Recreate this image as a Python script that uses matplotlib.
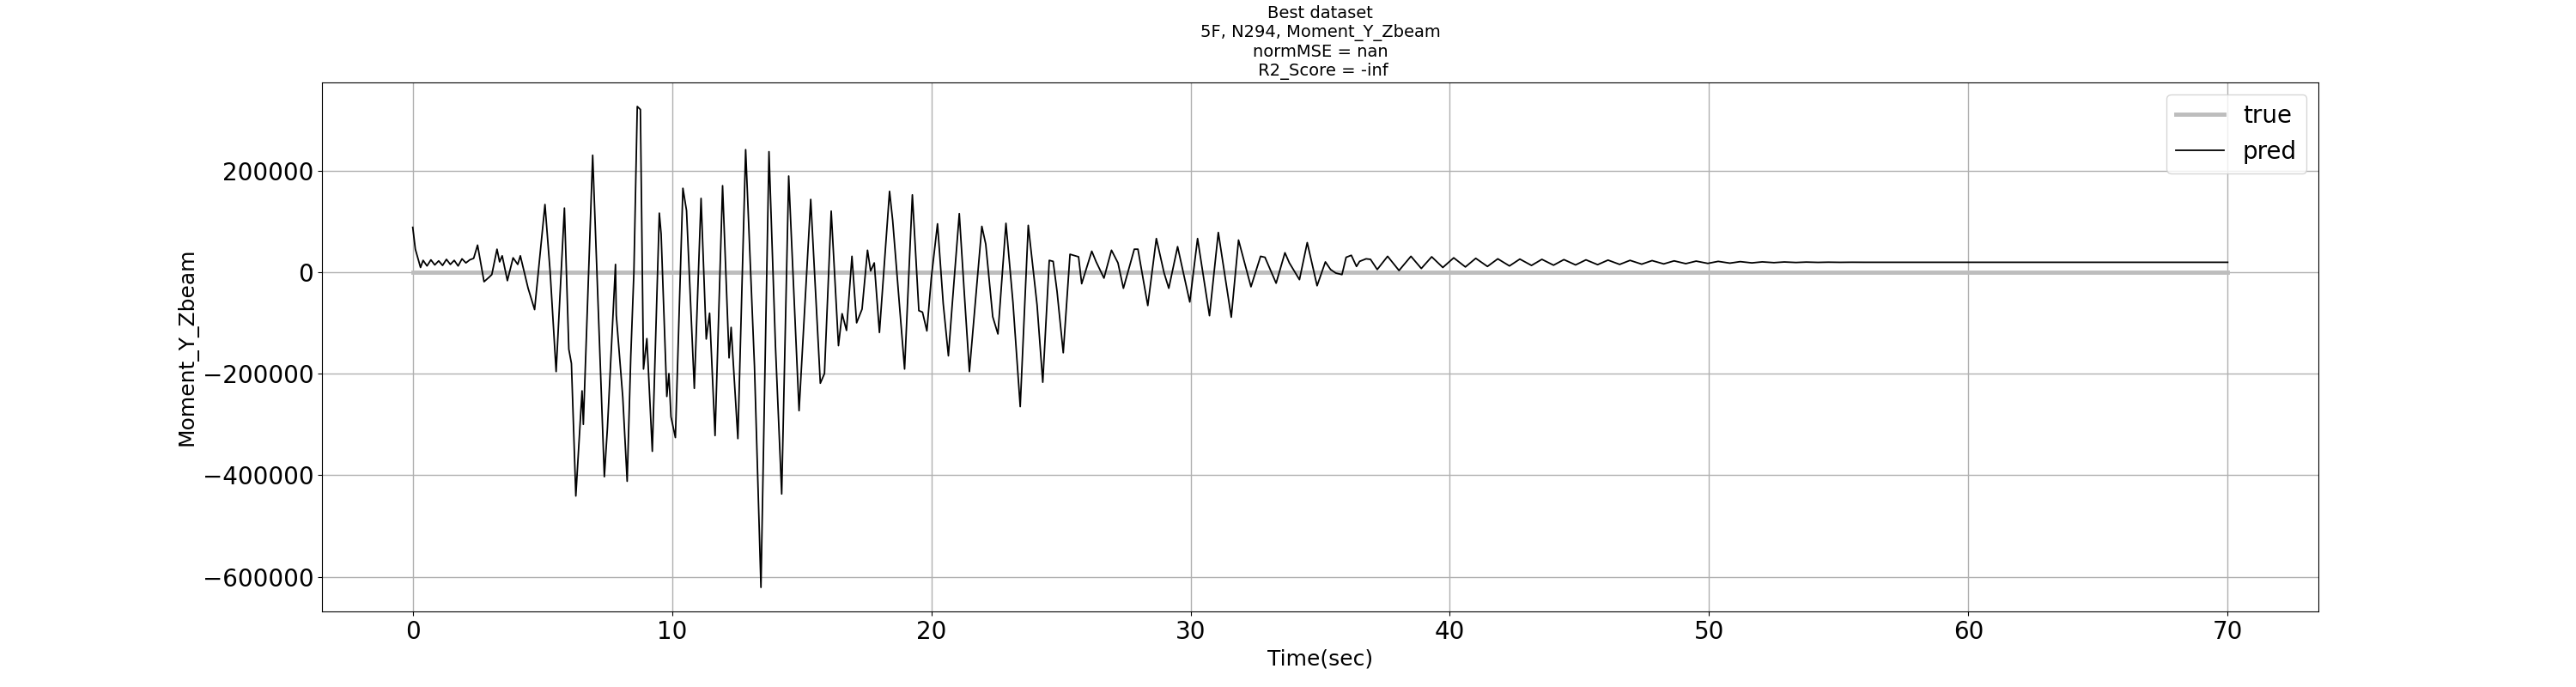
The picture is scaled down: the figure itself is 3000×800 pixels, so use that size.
import matplotlib
matplotlib.use("Agg")
import matplotlib.pyplot as plt

# time (s) / value pairs (extrema of the predicted trace)
pred_t = [0.0, 0.1, 0.3, 0.4, 0.55, 0.7, 0.85, 1.0, 1.15, 1.3, 1.45, 1.6, 1.75, 1.9, 2.05, 2.2, 2.35, 2.5,
          2.75, 2.95, 3.05, 3.25, 3.35, 3.45, 3.65, 3.87, 4.05, 4.15, 4.3, 4.45, 4.7, 5.1, 5.3, 5.53,
          5.85, 6.02, 6.12, 6.29, 6.53, 6.58, 6.94, 7.39, 7.51, 7.82, 7.85, 8.1, 8.27, 8.41, 8.53,
          8.66, 8.78, 8.9, 9.03, 9.24, 9.51, 9.58, 9.8, 9.88, 9.96, 10.13, 10.42, 10.56, 10.86,
          11.12, 11.32, 11.45, 11.66, 11.95, 12.2, 12.28, 12.54, 12.84, 13.18, 13.43, 13.74, 13.99,
          14.23, 14.5, 14.9, 15.35, 15.72, 15.88, 16.14, 16.42, 16.56, 16.73, 16.94, 17.12, 17.33,
          17.54, 17.66, 17.8, 18.0, 18.39, 18.51, 18.97, 19.27, 19.52, 19.66, 19.83, 20.0, 20.24,
          20.46, 20.66, 20.8, 21.08, 21.27, 21.47, 21.95, 22.1, 22.37, 22.57, 22.88, 23.15, 23.43,
          23.74, 24.08, 24.3, 24.55, 24.7, 24.85, 25.09, 25.35, 25.68, 25.8, 26.19, 26.36, 26.66,
          26.95, 27.2, 27.41, 27.83, 27.97, 28.35, 28.68, 28.98, 29.16, 29.5, 29.97, 30.27, 30.73,
          31.07, 31.57, 31.85, 32.33, 32.7, 32.87, 33.3, 33.64, 33.81, 34.2, 34.5, 34.88, 35.2,
          35.4, 35.6, 35.84, 36.0, 36.2, 36.4, 36.52, 36.77, 36.94, 37.2, 37.6, 38.04, 38.5, 38.9,
          39.3, 39.73, 40.15, 40.6, 41.0, 41.45, 41.85, 42.3, 42.7, 43.15, 43.55, 44.0, 44.4, 44.85,
          45.25, 45.7, 46.1, 46.55, 46.95, 47.4, 47.8, 48.25, 48.65, 49.1, 49.5, 49.95, 50.35, 50.8,
          51.2, 51.65, 52.05, 52.5, 52.9, 53.35, 53.75, 54.2, 54.6, 55.05, 55.5, 56.0, 70.0]
pred_v = [88000, 45000, 9000, 23000, 12000, 24000, 14000, 22000, 13000, 25000, 15000, 23000, 12000, 26000, 18000, 24000, 27000, 53000,
          -19000, -10000, -5000, 45000, 20000, 32000, -17000, 28000, 15000, 32000, 0, -32000, -74000, 133000, 0, -196000,
          126000, -152000, -180000, -441000, -234000, -300000, 230000, -403000, -306000, 15000, -85000, -246000, -412000, -165000, 0,
          326000, 320000, -191000, -131000, -353000, 116000, 75000, -245000, -200000, -285000, -326000, 165000, 121000, -229000,
          145000, -132000, -81000, -322000, 170000, -169000, -109000, -328000, 241000, -185000, -621000, 237000, -146000,
          -437000, 189000, -273000, 143000, -219000, -200000, 120000, -145000, -82000, -115000, 31000, -100000, -73000,
          43000, 2000, 18000, -119000, 159000, 102000, -191000, 152000, -76000, -79000, -116000, -12000, 95000,
          -62000, -165000, -69000, 115000, -39000, -196000, 90000, 55000, -88000, -122000, 96000, -60000, -265000,
          92000, -65000, -217000, 23000, 21000, -38000, -159000, 35000, 30000, -23000, 41000, 20000, -12000,
          43000, 18000, -32000, 45000, 45000, -66000, 66000, -2000, -32000, 50000, -59000, 66000, -86000,
          78000, -89000, 63000, -29000, 31000, 29000, -22000, 38000, 18000, -15000, 58000, -27000, 20000,
          5000, -2000, -5000, 29000, 33000, 11000, 21000, 26000, 25000, 5000, 31000, 3000, 31000, 7000,
          30000, 9000, 28000, 10000, 27000, 11000, 26000, 12000, 25500, 13000, 25000, 13500, 24500, 14000,
          24000, 14500, 23500, 15000, 23000, 15500, 22500, 16000, 22000, 16500, 21500, 17000, 21000, 17500,
          20500, 18000, 20000, 18500, 19800, 18800, 19600, 19000, 19400, 19100, 19300, 19200, 19200]

true_t = [0.0, 70.0]
true_v = [0, 0]

fig = plt.figure(figsize=(30, 8), dpi=100)
ax = fig.add_subplot(111)
ax.plot(true_t, true_v, color="#bdbdbd", linewidth=3.5, label="true")
ax.plot(pred_t, pred_v, color="black", linewidth=1.3, label="pred")
ax.grid(True, color="#b0b0b0", linewidth=1)
ax.set_title("Best dataset\n5F, N294, Moment_Y_Zbeam\nnormMSE = nan\n R2_Score = -inf", fontsize=14)
ax.set_xlabel("Time(sec)", fontsize=18)
ax.set_ylabel("Moment_Y_Zbeam", fontsize=18)
ax.tick_params(labelsize=20)
ax.legend(loc="upper right", fontsize=20)

fig.savefig("out.png", dpi=100)
